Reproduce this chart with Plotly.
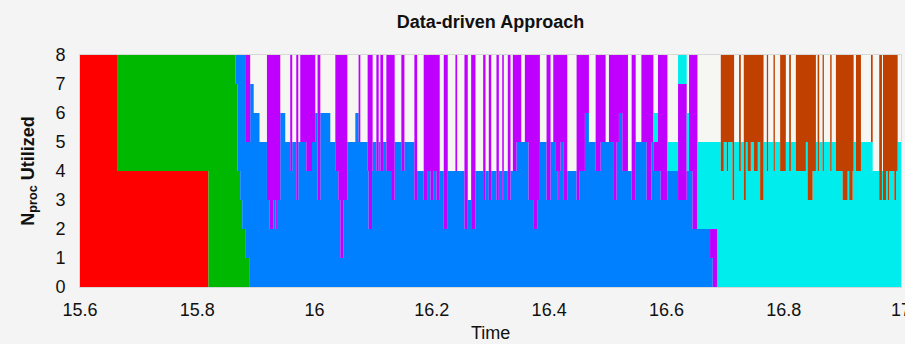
import numpy as np
import plotly.graph_objects as go

# ---- data: processor counts per job, as change points in time ----
red_t = [15.6, 15.6644, 15.8190]
red_n = [8, 4, 0]

green_t = [15.6, 15.6644, 15.8190, 15.8651, 15.8686, 15.8732, 15.8766, 15.8817, 15.8885]
green_n = [0, 4, 8, 7, 4, 3, 2, 1, 0]

mid_t = [15.8651, 15.8686, 15.8732, 15.8766, 15.8817, 15.8885, 15.8902, 15.8962, 15.9061, 15.9188,
         15.9232, 15.9300, 15.9334, 15.9358, 15.9415, 15.9500, 15.9585, 15.9619, 15.9688, 15.9722,
         15.9756, 15.9859, 15.9956, 16.0012, 16.0051, 16.0098, 16.0268, 16.0354, 16.0405, 16.0439,
         16.0490, 16.0559, 16.0695, 16.0751, 16.0780, 16.0905, 16.0922, 16.0980, 16.0990, 16.1054,
         16.1093, 16.1122, 16.1168, 16.1224, 16.1305, 16.1366, 16.1480, 16.1532, 16.1702, 16.1749,
         16.1861, 16.1919, 16.1976, 16.2022, 16.2078, 16.2134, 16.2203, 16.2271, 16.2402, 16.2431,
         16.2556, 16.2612, 16.2670, 16.2744, 16.2875, 16.2915, 16.2971, 16.3012, 16.3102, 16.3142,
         16.3200, 16.3227, 16.3295, 16.3341, 16.3381, 16.3444, 16.3524, 16.3586, 16.3649, 16.3729,
         16.3797, 16.3842, 16.3956, 16.4024, 16.4070, 16.4115, 16.4139, 16.4166, 16.4195, 16.4241,
         16.4309, 16.4468, 16.4519, 16.4610, 16.4678, 16.4793, 16.4878, 16.4963, 16.5020, 16.5105,
         16.5151, 16.5190, 16.5248, 16.5344, 16.5407, 16.5476, 16.5573, 16.5663, 16.5744, 16.5778,
         16.5856, 16.5902, 16.6017, 16.6198, 16.6346, 16.6386, 16.6444, 16.6529, 16.6744, 16.6790]
mid_blue = [1, 4, 5, 6, 4, 5, 7, 6, 5, 3,
            2, 3, 2, 3, 6, 5, 4, 5, 3, 5,
            5, 4, 5, 6, 3, 6, 5, 4, 3, 1,
            3, 5, 6, 5, 5, 4, 2, 4, 5, 4,
            5, 4, 5, 4, 3, 5, 4, 5, 3, 4,
            3, 4, 3, 4, 3, 4, 2, 4, 4, 4,
            2, 3, 2, 4, 3, 4, 3, 4, 3, 4,
            3, 4, 3, 4, 4, 5, 5, 5, 3, 2,
            3, 5, 3, 5, 5, 4, 3, 4, 5, 3,
            4, 3, 4, 6, 5, 4, 5, 5, 5, 3,
            5, 6, 4, 4, 3, 5, 5, 3, 5, 4,
            4, 3, 4, 3, 4, 4, 2, 2, 1, 0]
mid_purple = [0, 0, 0, 0, 3, 3, 0, 0, 0, 5,
              6, 5, 6, 5, 0, 0, 4, 0, 5, 0,
              3, 4, 3, 0, 5, 0, 0, 4, 5, 7,
              5, 0, 0, 3, 0, 4, 6, 4, 0, 4,
              0, 4, 0, 4, 5, 0, 4, 0, 5, 0,
              5, 4, 5, 4, 5, 0, 6, 0, 4, 0,
              6, 0, 6, 0, 5, 0, 5, 0, 5, 0,
              5, 0, 5, 0, 4, 3, 0, 3, 5, 6,
              5, 0, 5, 0, 3, 4, 5, 4, 3, 5,
              0, 5, 4, 2, 0, 4, 3, 0, 3, 5,
              3, 2, 4, 0, 5, 0, 3, 5, 3, 1,
              4, 5, 0, 4, 0, 4, 6, 0, 1, 2]
mid_cyan = [0, 0, 0, 0, 0, 0, 0, 0, 0, 0,
            0, 0, 0, 0, 0, 0, 0, 0, 0, 0,
            0, 0, 0, 0, 0, 0, 0, 0, 0, 0,
            0, 0, 0, 0, 0, 0, 0, 0, 0, 0,
            0, 0, 0, 0, 0, 0, 0, 0, 0, 0,
            0, 0, 0, 0, 0, 0, 0, 0, 0, 0,
            0, 0, 0, 0, 0, 0, 0, 0, 0, 0,
            0, 0, 0, 0, 0, 0, 0, 0, 0, 0,
            0, 0, 0, 0, 0, 0, 0, 0, 0, 0,
            0, 0, 0, 0, 0, 0, 0, 0, 0, 0,
            0, 0, 0, 0, 0, 0, 0, 0, 0, 1,
            0, 0, 1, 1, 2, 0, 0, 3, 3, 3]

right_t = [16.6871, 16.6927, 16.6978, 16.7029, 16.7051, 16.7126, 16.7154, 16.7239, 16.7268, 16.7319,
           16.7354, 16.7383, 16.7439, 16.7490, 16.7558, 16.7598, 16.7656, 16.7712, 16.7734, 16.7826,
           16.7849, 16.7939, 16.8036, 16.8093, 16.8122, 16.8207, 16.8378, 16.8407, 16.8492, 16.8549,
           16.8578, 16.8605, 16.8663, 16.8685, 16.8793, 16.8817, 16.8890, 16.9005, 16.9090, 16.9117,
           16.9175, 16.9192, 16.9232, 16.9317, 16.9488, 16.9517, 16.9629, 16.9675, 16.9693, 16.9744,
           16.9773, 16.9800, 16.9886, 16.9915, 16.9943]
right_cyan = [5, 4, 5, 4, 5, 3, 5, 4, 5, 3,
              5, 4, 5, 4, 5, 3, 5, 4, 5, 4,
              5, 4, 5, 4, 5, 4, 5, 3, 4, 5,
              4, 5, 4, 5, 4, 5, 4, 3, 4, 3,
              4, 5, 4, 5, 5, 4, 3, 4, 3, 4,
              3, 4, 3, 4, 5]
right_orange = [0, 4, 3, 4, 3, 5, 0, 4, 0, 5,
                3, 4, 3, 4, 3, 5, 0, 4, 0, 4,
                0, 4, 0, 4, 0, 4, 3, 5, 4, 0,
                4, 0, 4, 0, 4, 0, 4, 5, 4, 5,
                4, 0, 4, 0, 3, 0, 5, 0, 5, 4,
                5, 4, 5, 4, 0]

t_end = 17.0

series = [
    ("red", red_t, red_n, "#ff0000"),
    ("green", green_t, green_n, "#00b800"),
    ("blue", mid_t + [right_t[0]], mid_blue + [0], "#0080ff"),
    ("purple", mid_t + [right_t[0]], mid_purple + [0], "#bf00ff"),
    ("cyan", mid_t + right_t, mid_cyan + right_cyan, "#00eded"),
    ("orange", right_t, right_orange, "#c04000"),
]

edges = sorted(set(t for _, ts, _, _ in series for t in ts))
edges = edges + [t_end]


def step_values(ts, ns, grid):
    ts = np.asarray(ts)
    ns = np.asarray(ns)
    idx = np.searchsorted(ts, grid, side="right") - 1
    return np.where(idx >= 0, ns[np.clip(idx, 0, None)], 0)


grid = np.array(edges)
fig = go.Figure()
for name, ts, ns, col in series:
    vals = step_values(ts, ns, grid[:-1])
    vals = np.append(vals, vals[-1])
    fig.add_trace(go.Scatter(
        x=grid, y=vals, name=name, stackgroup="one", line_shape="hv",
        mode="lines", line=dict(width=0, color=col), fillcolor=col,
        hoverinfo="skip", showlegend=False,
    ))

font_family = "Liberation Sans, Arial, sans-serif"
fig.update_layout(
    width=905, height=344,
    margin=dict(l=80, r=4, t=55, b=57, autoexpand=False),
    paper_bgcolor="#f4f4f4",
    plot_bgcolor="#f6f6f3",
    title=dict(text="<b>Data-driven Approach</b>", x=0.5, xref="paper", xanchor="center",
               y=1 - 22 / 344, yref="container", yanchor="middle",
               font=dict(family=font_family, size=18, color="#111")),
    xaxis=dict(range=[15.6, 17.0], tickvals=[15.6, 15.8, 16, 16.2, 16.4, 16.6, 16.8, 17],
               ticktext=["15.6", "15.8", "16", "16.2", "16.4", "16.6", "16.8", "17"],
               showgrid=False, zeroline=False, ticks="", showline=True, linecolor="#d8d8d8",
               mirror=True, ticklabelstandoff=6, ticklabeloverflow="allow", automargin=False,
               tickfont=dict(family=font_family, size=18, color="#111")),
    yaxis=dict(range=[0, 8], tickvals=list(range(9)), showgrid=False, zeroline=False, ticks="",
               showline=True, linecolor="#d8d8d8", mirror=True, ticklabelstandoff=10, automargin=False,
               tickfont=dict(family=font_family, size=18, color="#111"),
               title=dict(text="<b>N<sub>proc</sub> Utilized</b>", standoff=16,
                          font=dict(family=font_family, size=18, color="#111"))),
    annotations=[dict(text="Time", x=0.5, xref="paper", xanchor="center", y=0, yref="paper",
                      yanchor="top", yshift=-35, showarrow=False, borderpad=0,
                      font=dict(family=font_family, size=18, color="#111"))],
)
fig.write_html("out.html")
